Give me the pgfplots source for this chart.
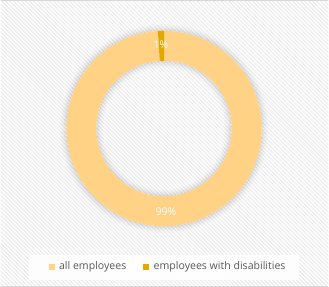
\documentclass[border=0pt]{standalone}
\usepackage{pgfplots}
\pgfplotsset{compat=1.18}
\usepackage{pgfplotstable}
\usepackage{fontspec}
\setmainfont{Open Sans}
\definecolor{lightor}{RGB}{255,210,134}
\definecolor{darkor}{RGB}{224,168,0}
\definecolor{legtext}{RGB}{89,89,89}
\definecolor{hatch}{RGB}{236,236,236}
\definecolor{frame}{RGB}{217,217,217}

\pgfplotstableread{
label value
all 99
dis 1
}\datatable

\begin{document}
\begin{tikzpicture}[x=1bp,y=1bp]
\pgfplotstablegetelem{0}{value}\of\datatable \edef\va{\pgfplotsretval}
\pgfplotstablegetelem{1}{value}\of\datatable \edef\vb{\pgfplotsretval}
\pgfmathsetmacro{\aend}{90-360*(\va/(\va+\vb))}
% background
\fill[white] (0,0) rectangle (329,288);
\begin{scope}
\clip (0,0) rectangle (329,288);
\foreach \k in {-300,-296,...,340}{
  \draw[hatch, line width=1.1bp] (\k,288) -- (\k+288,0);
}
\end{scope}
\draw[frame, line width=1.2bp] (0,0.6) -- (329,0.6);
\draw[frame, line width=1.2bp] (0,287.4) -- (329,287.4);
% shadow glow
\foreach \i/\o in {1/0.10,2/0.08,3/0.06,4/0.045,5/0.03,6/0.02,7/0.012}{
  \pgfmathsetmacro{\ro}{97.5+\i}
  \pgfmathsetmacro{\ri}{68.5-\i}
  \draw[black, opacity=\o, line width=1.1bp] (164,159) circle[radius=\ro];
  \draw[black, opacity=\o, line width=1.1bp] (164,159) circle[radius=\ri];
}
% legend box
\fill[white, opacity=0.85] (29,7) rectangle (299,32);
\fill[lightor] (48.5,17) rectangle (54.5,23);
\node[anchor=west, inner sep=0pt, legtext, font=\fontsize{10.6bp}{12bp}\selectfont] at (58.5,20) {all employees};
\fill[darkor] (142.5,17) rectangle (148.5,23);
\node[anchor=west, inner sep=0pt, legtext, font=\fontsize{10.6bp}{12bp}\selectfont] at (153.5,20) {employees with disabilities};

\begin{axis}[
  at={(0,0)}, anchor=south west,
  scale only axis, width=329bp, height=288bp,
  xmin=0, xmax=329, ymin=0, ymax=288,
  hide axis, clip=false,
]
\addplot[draw=none, forget plot] table[x expr=\coordindex, y=value] {\datatable};
\fill[lightor] (axis cs:164,159) ++(90:98bp) arc[start angle=90, end angle=\aend, radius=98bp]
   -- ([shift={(\aend:68bp)}]axis cs:164,159) arc[start angle=\aend, end angle=90, radius=68bp] -- cycle;
\fill[darkor] ([shift={(\aend:98bp)}]axis cs:164,159) arc[start angle=\aend, end angle=-270, radius=98bp]
   -- ([shift={(-270:68bp)}]axis cs:164,159) arc[start angle=-270, end angle=\aend, radius=68bp] -- cycle;
\node[white, font=\fontsize{10.6bp}{12bp}\selectfont] at (axis cs:161,243) {1\%};
\node[white, font=\fontsize{10.6bp}{12bp}\selectfont] at (axis cs:166,76) {99\%};
\end{axis}
\end{tikzpicture}
\end{document}
